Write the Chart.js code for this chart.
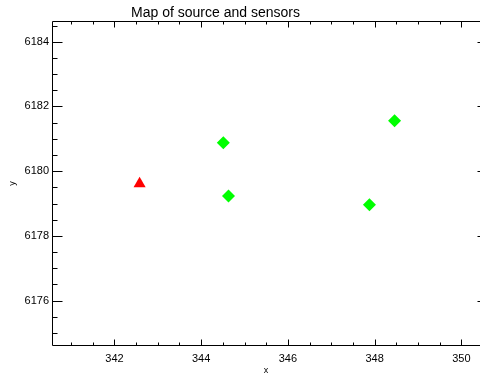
<!DOCTYPE html>
<html>
<head>
<meta charset="utf-8">
<script src="https://cdn.jsdelivr.net/npm/chart.js@4/dist/chart.umd.min.js"></script>
<style>
  html, body { margin: 0; padding: 0; background: #fff; }
  #wrap { width: 480px; height: 379px; position: relative; }
</style>
</head>
<body>
<div id="wrap"><canvas id="c" width="480" height="379"></canvas></div>
<script>
// ---- data ----
const chartTitle = 'Map of source and sensors';
const sourceX = [342.58];
const sourceY = [6179.61];
const sensorX = [344.51, 344.63, 347.88, 348.46];
const sensorY = [6180.88, 6179.23, 6178.96, 6181.56];
const xMajorTicks = [342, 344, 346, 348, 350];
const yMajorTicks = [6176, 6178, 6180, 6182, 6184];
const xRange = [340.56, 350.43];   // visible part of the x axis
const xFrameMax = 350.62;          // the plot frame continues past the window edge
const yRange = [6174.60, 6184.64];
const minorStep = 0.5;

const FONT = "'Liberation Sans', Arial, sans-serif";
Chart.defaults.color = '#000';
Chart.defaults.font.family = FONT;

const boxPlugin = {
  id: 'idlBox',
  afterDraw(chart) {
    const { ctx, chartArea, scales } = chart;
    const xs = scales.x, ys = scales.y;
    const L = Math.round(chartArea.left) + 0.5;
    const R = Math.round(xs.getPixelForValue(xFrameMax)) - 0.5;
    const T = Math.round(chartArea.top) + 0.5;
    const B = Math.round(chartArea.bottom) - 0.5;
    ctx.save();
    ctx.strokeStyle = '#000';
    ctx.lineWidth = 1;
    ctx.beginPath();
    ctx.rect(L, T, R - L, B - T);
    ctx.stroke();
    ctx.beginPath();
    xs.ticks.forEach(t => {
      const px = Math.round(xs.getPixelForValue(t.value)) + 0.5;
      const len = xMajorTicks.includes(t.value) ? 6 : 3;
      ctx.moveTo(px, B); ctx.lineTo(px, B - len);
      ctx.moveTo(px, T); ctx.lineTo(px, T + len);
    });
    ys.ticks.forEach(t => {
      const py = Math.round(ys.getPixelForValue(t.value)) + 0.5;
      const len = yMajorTicks.includes(t.value) ? 10 : 5;
      ctx.moveTo(L, py); ctx.lineTo(L + len, py);
      ctx.moveTo(R, py); ctx.lineTo(R - len, py);
    });
    ctx.stroke();
    ctx.fillStyle = '#000';
    ctx.font = '14px ' + FONT;
    ctx.textAlign = 'center';
    ctx.textBaseline = 'alphabetic';
    ctx.fillText(chartTitle, 215.5, 17);
    ctx.restore();
  }
};

new Chart(document.getElementById('c'), {
  type: 'scatter',
  data: {
    datasets: [
      {
        label: 'source',
        data: sourceX.map((v, i) => ({ x: v, y: sourceY[i] })),
        pointStyle: 'triangle',
        pointRadius: 7,
        backgroundColor: '#ff0000',
        borderColor: '#ff0000',
        borderWidth: 0
      },
      {
        label: 'sensors',
        data: sensorX.map((v, i) => ({ x: v, y: sensorY[i] })),
        pointStyle: 'rectRot',
        pointRadius: 6.5,
        backgroundColor: '#00ff00',
        borderColor: '#00ff00',
        borderWidth: 0
      }
    ]
  },
  options: {
    responsive: false,
    animation: false,
    events: [],
    layout: { autoPadding: false, padding: { top: 21, right: 0, bottom: 0, left: 0 } },
    plugins: { legend: { display: false }, tooltip: { enabled: false }, title: { display: false } },
    scales: {
      x: {
        type: 'linear',
        min: xRange[0],
        max: xRange[1],
        grid: { display: false, drawTicks: false },
        border: { display: false },
        ticks: {
          stepSize: minorStep,
          maxTicksLimit: 100,
          includeBounds: false,
          autoSkip: false,
          maxRotation: 0,
          padding: 6,
          font: { size: 11, family: FONT },
          callback: v => xMajorTicks.includes(v) ? String(v) : ''
        },
        title: { display: true, text: 'x', font: { size: 9, family: FONT }, padding: { top: 0, bottom: 3 } },
        afterFit(scale) { scale.height = 33; scale.paddingLeft = 0; scale.paddingRight = 0; }
      },
      y: {
        type: 'linear',
        min: yRange[0],
        max: yRange[1],
        grid: { display: false, drawTicks: false },
        border: { display: false },
        ticks: {
          stepSize: minorStep,
          maxTicksLimit: 100,
          includeBounds: false,
          autoSkip: false,
          padding: 3,
          font: { size: 11, family: FONT },
          callback: v => yMajorTicks.includes(v) ? String(v) : ''
        },
        title: { display: true, text: 'y', font: { size: 9, family: FONT }, padding: { top: 7, bottom: 0 } },
        afterFit(scale) { scale.width = 52; scale.paddingTop = 0; scale.paddingBottom = 0; }
      }
    }
  },
  plugins: [boxPlugin]
});
</script>
</body>
</html>
